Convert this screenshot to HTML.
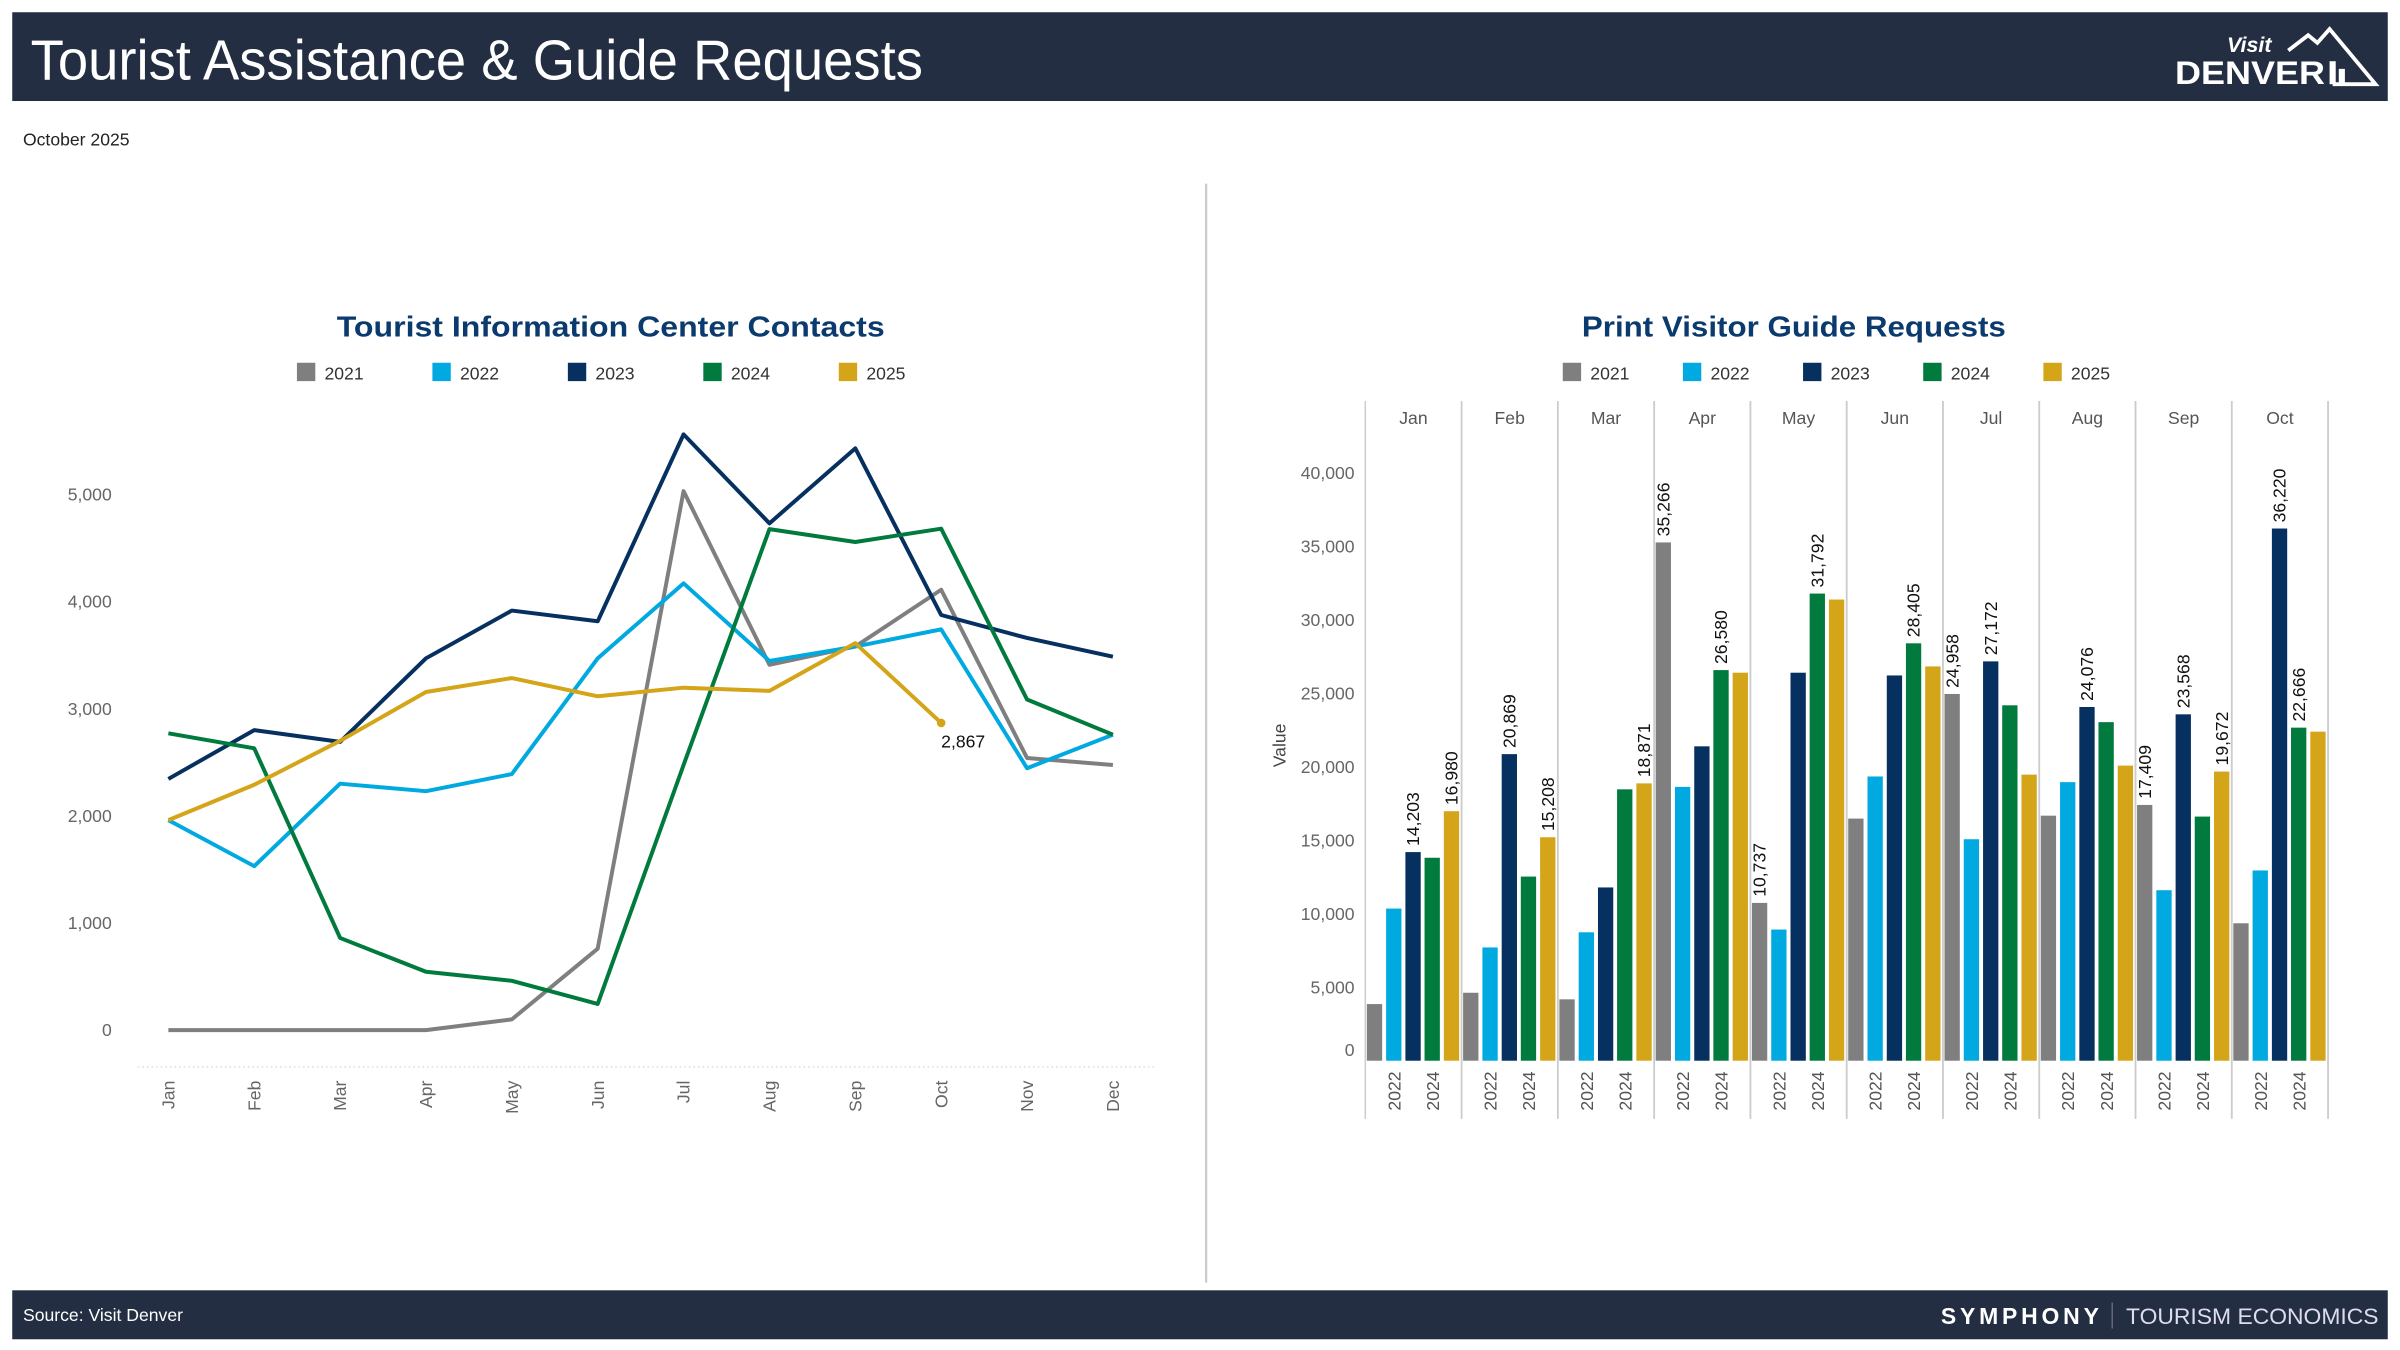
<!DOCTYPE html>
<html><head><meta charset="utf-8"><title>Tourist Assistance & Guide Requests</title>
<style>
html,body{margin:0;padding:0;background:#fff;}
svg{display:block;font-family:"Liberation Sans",sans-serif;}
</style></head>
<body>
<svg id="root" width="2400" height="1350" viewBox="0 0 1568 882" xmlns="http://www.w3.org/2000/svg">
  <rect x="8" y="8" width="1552" height="58" fill="#232e42"/>
  <text x="20" y="52" fill="#fff" font-size="37" textLength="583" lengthAdjust="spacingAndGlyphs">Tourist Assistance &amp; Guide Requests</text>
  <g>
    <text x="1455" y="34" fill="#fff" font-size="14" font-style="italic" font-weight="bold">Visit</text>
    <text x="1421" y="55" fill="#fff" font-size="21" font-weight="bold" textLength="98" lengthAdjust="spacingAndGlyphs">DENVER</text>
    <polyline points="1495,33 1508,23 1514,28 1522,19 1552,55 1524,55" fill="none" stroke="#fff" stroke-width="2.5"/>
    <rect x="1522" y="40" width="4" height="15" fill="#fff"/><rect x="1528" y="45" width="4" height="10" fill="#fff"/>
  </g>
  <text x="15" y="95" fill="#222" font-size="11.5">October 2025</text>
  <line x1="788" y1="120" x2="788" y2="838" stroke="#ccc" stroke-width="1.5"/>

  <text x="399" y="220" text-anchor="middle" fill="#0b3a6e" font-size="19" font-weight="bold" textLength="358" lengthAdjust="spacingAndGlyphs">Tourist Information Center Contacts</text>
  <g id="legL"></g>
  <g id="lineChart"></g>

  <text x="1172" y="220" text-anchor="middle" fill="#0b3a6e" font-size="19" font-weight="bold" textLength="277" lengthAdjust="spacingAndGlyphs">Print Visitor Guide Requests</text>
  <g id="legR"></g>
  <g id="barChart"></g>

  <rect x="8" y="843" width="1552" height="32" fill="#232e42"/>
  <text x="15" y="863" fill="#fff" font-size="11.5">Source: Visit Denver</text>
  <text x="1268" y="865" fill="#fff" font-size="15" font-weight="bold" letter-spacing="2.5">SYMPHONY</text>
  <line x1="1380" y1="851" x2="1380" y2="868" stroke="#667" stroke-width="1"/>
  <text x="1389" y="865" fill="#dde" font-size="14.5" textLength="165" lengthAdjust="spacingAndGlyphs">TOURISM ECONOMICS</text>
</svg>
<script>
const NS="http://www.w3.org/2000/svg";
const years=["2021","2022","2023","2024","2025"];
const colors=["#7f7f7f","#00a9e0","#06305f","#007a3d","#d4a419"];
// line chart data
const lineMonths=["Jan","Feb","Mar","Apr","May","Jun","Jul","Aug","Sep","Oct","Nov","Dec"];
const line2021=[0,0,0,0,100,760,5030,3410,3580,4110,2540,2475];
const line2022=[1960,1530,2300,2230,2390,3470,4170,3445,3580,3740,2445,2757];
const line2023=[2345,2800,2690,3470,3915,3815,5560,4730,5430,3875,3660,3485];
const line2024=[2770,2630,860,545,460,245,2475,4675,4555,4680,3085,2757];
const line2025=[1960,2290,2700,3155,3285,3115,3195,3165,3612,2867];
const lineTicks=[0,1000,2000,3000,4000,5000];
const lineSeries=[line2021,line2022,line2023,line2024,line2025];
// bar chart data
const barMonths=["Jan","Feb","Mar","Apr","May","Jun","Jul","Aug","Sep","Oct"];
const bar2021=[3850,4630,4180,35266,10737,16480,24958,16680,17409,9350];
const bar2022=[10350,7710,8740,18640,8930,19340,15070,18960,11600,12950];
const bar2023=[14203,20869,11790,21400,26410,26220,27172,24076,23568,36220];
const bar2024=[13815,12530,18470,26580,31792,28405,24190,23040,16610,22666];
const bar2025=[16980,15208,18871,26410,31390,26830,19470,20080,19672,22393];
const barTicks=[0,5000,10000,15000,20000,25000,30000,35000,40000];
const barSeries=[bar2021,bar2022,bar2023,bar2024,bar2025];
const barLabeled=[[0,2],[0,4],[1,2],[1,4],[2,4],[3,0],[3,3],[4,0],[4,3],[5,3],[6,0],[6,2],[7,2],[8,0],[8,2],[8,4],[9,2],[9,3]];

function mk(tag,attrs,parent,txt){const e=document.createElementNS(NS,tag);for(const k in attrs)e.setAttribute(k,attrs[k]);if(txt!==undefined)e.textContent=txt;parent.appendChild(e);return e;}
const fmt=v=>v.toLocaleString("en-US");

function legend(g,x0,step){
  years.forEach((y,i)=>{
    const r=mk("rect",{x:x0+i*step,y:237,width:12,height:12,fill:colors[i]},g);
    
    
    const t=mk("text",{x:x0+i*step+18,y:248,"font-size":11.5,fill:"#333"},g,y);
    
    
  });
}
legend(document.getElementById("legL"),194,88.5);
legend(document.getElementById("legR"),1021,78.5);

const LG=document.getElementById("lineChart");
const lx=i=>110+i*56.1;
const ly=v=>673-v*0.07;
lineTicks.forEach(t=>{
  const e=mk("text",{x:73,y:ly(t)+4,"text-anchor":"end","font-size":11.5,fill:"#666"},LG,fmt(t));
  
  
});
const ax=mk("line",{x1:90,y1:697,x2:755,y2:697,stroke:"#ddd","stroke-dasharray":"1 2"},LG);


lineMonths.forEach((m,i)=>{
  const e=mk("text",{transform:`translate(${lx(i)+4},${706}) rotate(-90)`,"text-anchor":"end","font-size":11.5,fill:"#666"},LG,m);
  
  
});
lineSeries.forEach((s,k)=>{
  const pts=s.map((v,i)=>lx(i).toFixed(1)+","+ly(v).toFixed(1)).join(" ");
  const p=mk("polyline",{points:pts,fill:"none",stroke:colors[k],"stroke-width":2.6,"stroke-linejoin":"round"},LG);
  
  
});
{
  const s=line2025, i=s.length-1;
  const c=mk("circle",{cx:lx(i),cy:ly(s[i]),r:2.8,fill:colors[4]},LG);
  
  
  const t=mk("text",{x:lx(i),y:ly(s[i])+16,"font-size":11.5,fill:"#111"},LG,fmt(s[i]));
  
  
}

const BG=document.getElementById("barChart");
const bw=62.9;
const bx0=892;
const by=v=>693-v*48/5000;
mk("line",{x1:bx0,y1:262,x2:bx0,y2:731,stroke:"#ccc","stroke-width":1},BG);
barMonths.forEach((m,i)=>{
  const xs=bx0+(i+1)*bw;
  mk("line",{x1:xs,y1:262,x2:xs,y2:731,stroke:"#ccc","stroke-width":1.2},BG);
  const h=mk("text",{x:bx0+i*bw+bw/2,y:277,"text-anchor":"middle","font-size":11.5,fill:"#555"},BG,m);
  
  
  ["2022","2024"].forEach((y,j)=>{
    const cx=bx0+i*bw+(1+j*2)*bw/5+bw/10+4;
    const t=mk("text",{transform:`translate(${cx},${700}) rotate(-90)`,"text-anchor":"end","font-size":11.5,fill:"#555"},BG,y);
    
    
  });
});
barTicks.forEach(t=>{
  const e=mk("text",{x:885,y:Math.min(by(t)+4,690),"text-anchor":"end","font-size":11.5,fill:"#666"},BG,fmt(t));
  
  
});
const yt=mk("text",{transform:"translate(840,487) rotate(-90)","text-anchor":"middle","font-size":11.5,fill:"#444"},BG,"Value");


barSeries.forEach((s,k)=>{
  s.forEach((v,i)=>{
    const x=bx0+i*bw+1+k*bw/5;
    const r=mk("rect",{x:x.toFixed(1),y:by(v).toFixed(1),width:10,height:(693-by(v)).toFixed(1),fill:colors[k]},BG);
    
    
  });
});
barLabeled.forEach(([i,k])=>{
  const v=barSeries[k][i];
  const cx=bx0+i*bw+1+k*bw/5+5+4;
  const t=mk("text",{transform:`translate(${cx.toFixed(1)},${(by(v)-4).toFixed(1)}) rotate(-90)`,"font-size":11.5,fill:"#111"},BG,fmt(v));
  
  
});
</script>
</body></html>
